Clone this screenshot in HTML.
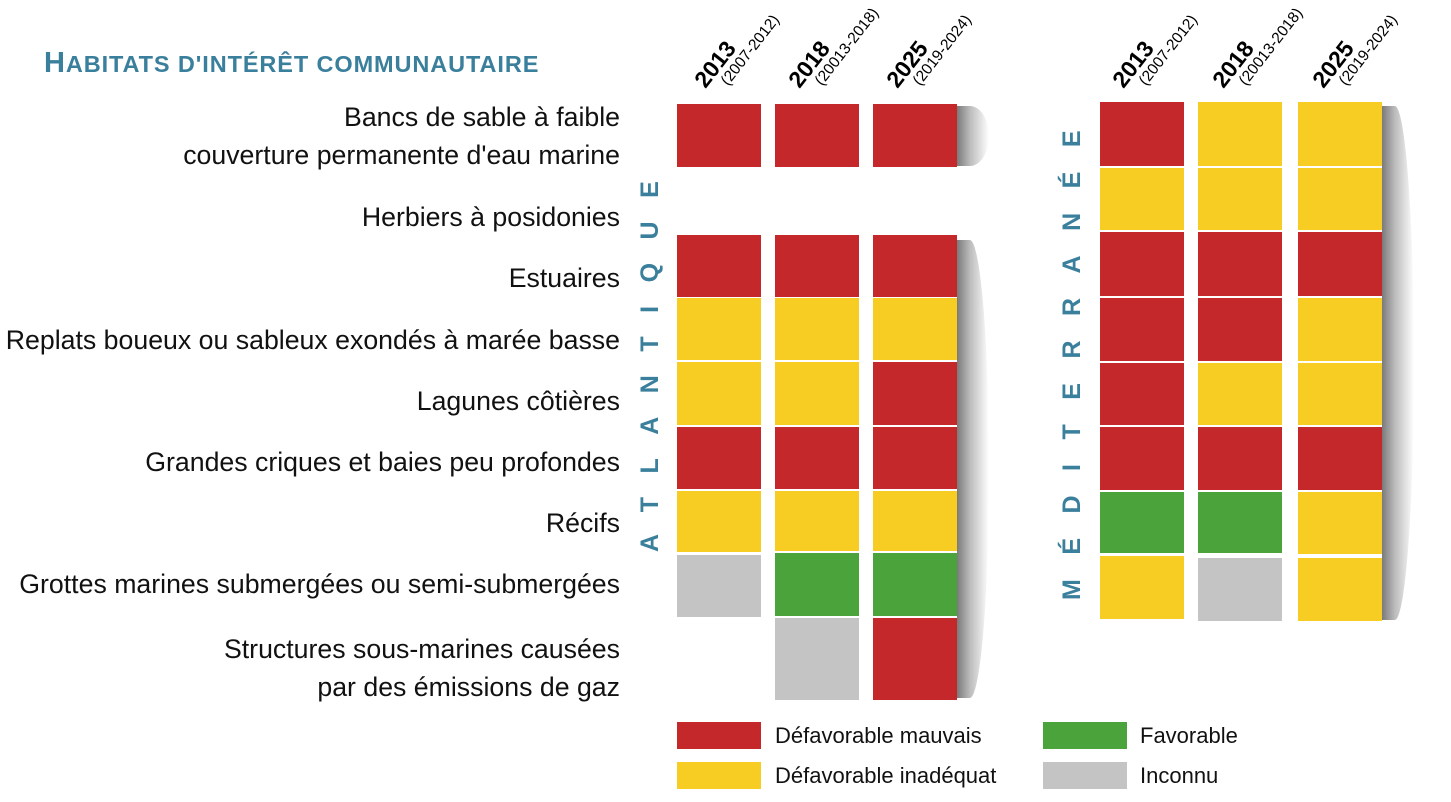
<!DOCTYPE html>
<html><head><meta charset="utf-8"><style>
body{margin:0;width:1451px;height:802px;background:#fff;position:relative;overflow:hidden;font-family:"Liberation Sans",sans-serif}
.c{position:absolute}
.R{background:#c4282a}.Y{background:#f7cd24}.G{background:#4ba33b}.N{background:#c4c4c4}
.lab{position:absolute;right:831px;text-align:right;font-size:26.7px;color:#111;line-height:38px;white-space:nowrap}
.sh{position:absolute;border-radius:0 60% 60% 0/0 50% 50% 0;background:linear-gradient(to right,#7a7a7a,#bbb 40%,rgba(255,255,255,0))}
.vt{position:absolute;color:#3a7f9c;font-weight:bold;font-size:25px;transform:rotate(-90deg);transform-origin:0 0;white-space:nowrap}
.hd{position:absolute;transform:rotate(-52deg);transform-origin:0 100%;white-space:nowrap;line-height:19px}
.hd b{font-size:23px;display:block}
.hd i{font-size:15.5px;font-style:normal;display:block;margin-left:16px}
.lg{position:absolute;font-size:22px;color:#111}
</style></head><body>
<div class="c" style="left:44px;top:47px;color:#3a7f9c;font-weight:bold;font-size:29px;letter-spacing:0.9px">H<span style="font-size:23.5px">ABITATS D'INTÉRÊT COMMUNAUTAIRE</span></div>

<div class="lab" style="top:98px">Bancs de sable à faible<br>couverture permanente d'eau marine</div>
<div class="lab" style="top:198px">Herbiers à posidonies</div>
<div class="lab" style="top:259px">Estuaires</div>
<div class="lab" style="top:321px">Replats boueux ou sableux exondés à marée basse</div>
<div class="lab" style="top:382px">Lagunes côtières</div>
<div class="lab" style="top:443px">Grandes criques et baies peu profondes</div>
<div class="lab" style="top:504px">Récifs</div>
<div class="lab" style="top:565px">Grottes marines submergées ou semi-submergées</div>
<div class="lab" style="top:630px">Structures sous-marines causées<br>par des émissions de gaz</div>

<!-- shadows -->
<div class="sh" style="left:957px;top:106px;width:32px;height:60px"></div>
<div class="sh" style="left:957px;top:240px;width:32px;height:458px"></div>
<div class="sh" style="left:1382px;top:106px;width:32px;height:514px"></div>

<!-- Atlantique -->
<div class="c R" style="left:677px;top:104px;width:84px;height:63px"></div>
<div class="c R" style="left:775px;top:104px;width:84px;height:63px"></div>
<div class="c R" style="left:873px;top:104px;width:84px;height:63px"></div>

<div class="c R" style="left:677px;top:235px;width:84px;height:62px"></div>
<div class="c R" style="left:775px;top:235px;width:84px;height:62px"></div>
<div class="c R" style="left:873px;top:235px;width:84px;height:62px"></div>
<div class="c Y" style="left:677px;top:298px;width:84px;height:62px"></div>
<div class="c Y" style="left:775px;top:298px;width:84px;height:62px"></div>
<div class="c Y" style="left:873px;top:298px;width:84px;height:62px"></div>
<div class="c Y" style="left:677px;top:362px;width:84px;height:63px"></div>
<div class="c Y" style="left:775px;top:362px;width:84px;height:63px"></div>
<div class="c R" style="left:873px;top:362px;width:84px;height:63px"></div>
<div class="c R" style="left:677px;top:427px;width:84px;height:62px"></div>
<div class="c R" style="left:775px;top:427px;width:84px;height:62px"></div>
<div class="c R" style="left:873px;top:427px;width:84px;height:62px"></div>
<div class="c Y" style="left:677px;top:491px;width:84px;height:61px"></div>
<div class="c Y" style="left:775px;top:491px;width:84px;height:60px"></div>
<div class="c Y" style="left:873px;top:491px;width:84px;height:60px"></div>
<div class="c N" style="left:677px;top:555px;width:84px;height:62px"></div>
<div class="c G" style="left:775px;top:553px;width:84px;height:63px"></div>
<div class="c G" style="left:873px;top:553px;width:84px;height:63px"></div>
<div class="c N" style="left:775px;top:618px;width:84px;height:82px"></div>
<div class="c R" style="left:873px;top:618px;width:84px;height:82px"></div>

<!-- Méditerranée -->
<div class="c R" style="left:1100px;top:102px;width:84px;height:64px"></div>
<div class="c Y" style="left:1198px;top:102px;width:84px;height:64px"></div>
<div class="c Y" style="left:1298px;top:102px;width:84px;height:64px"></div>
<div class="c Y" style="left:1100px;top:168px;width:84px;height:62px"></div>
<div class="c Y" style="left:1198px;top:168px;width:84px;height:62px"></div>
<div class="c Y" style="left:1298px;top:168px;width:84px;height:62px"></div>
<div class="c R" style="left:1100px;top:232px;width:84px;height:64px"></div>
<div class="c R" style="left:1198px;top:232px;width:84px;height:64px"></div>
<div class="c R" style="left:1298px;top:232px;width:84px;height:64px"></div>
<div class="c R" style="left:1100px;top:298px;width:84px;height:63px"></div>
<div class="c R" style="left:1198px;top:298px;width:84px;height:63px"></div>
<div class="c Y" style="left:1298px;top:298px;width:84px;height:63px"></div>
<div class="c R" style="left:1100px;top:363px;width:84px;height:62px"></div>
<div class="c Y" style="left:1198px;top:363px;width:84px;height:62px"></div>
<div class="c Y" style="left:1298px;top:363px;width:84px;height:62px"></div>
<div class="c R" style="left:1100px;top:427px;width:84px;height:63px"></div>
<div class="c R" style="left:1198px;top:427px;width:84px;height:63px"></div>
<div class="c R" style="left:1298px;top:427px;width:84px;height:63px"></div>
<div class="c G" style="left:1100px;top:492px;width:84px;height:61px"></div>
<div class="c G" style="left:1198px;top:492px;width:84px;height:61px"></div>
<div class="c Y" style="left:1298px;top:492px;width:84px;height:62px"></div>
<div class="c Y" style="left:1100px;top:556px;width:84px;height:63px"></div>
<div class="c N" style="left:1198px;top:558px;width:84px;height:63px"></div>
<div class="c Y" style="left:1298px;top:558px;width:84px;height:63px"></div>

<div class="vt" style="left:636px;top:552px;letter-spacing:23.5px">ATLANTIQUE</div>
<div class="vt" style="left:1058px;top:600px;letter-spacing:24.5px">MÉDITERRANÉE</div>

<!-- headers -->
<div class="hd" style="left:722px;top:64px"><b>2013</b><i>(2007-2012)</i></div>
<div class="hd" style="left:816px;top:64px"><b>2018</b><i>(20013-2018)</i></div>
<div class="hd" style="left:914px;top:64px"><b>2025</b><i>(2019-2024)</i></div>
<div class="hd" style="left:1140px;top:64px"><b>2013</b><i>(2007-2012)</i></div>
<div class="hd" style="left:1240px;top:64px"><b>2018</b><i>(20013-2018)</i></div>
<div class="hd" style="left:1340px;top:64px"><b>2025</b><i>(2019-2024)</i></div>

<!-- legend -->
<div class="c R" style="left:677px;top:722px;width:84px;height:27px"></div>
<div class="c Y" style="left:677px;top:762px;width:84px;height:27px"></div>
<div class="c G" style="left:1043px;top:722px;width:84px;height:27px"></div>
<div class="c N" style="left:1043px;top:762px;width:84px;height:27px"></div>
<div class="lg" style="left:775px;top:723px">Défavorable mauvais</div>
<div class="lg" style="left:775px;top:763px">Défavorable inadéquat</div>
<div class="lg" style="left:1140px;top:723px">Favorable</div>
<div class="lg" style="left:1140px;top:763px">Inconnu</div>
</body></html>
